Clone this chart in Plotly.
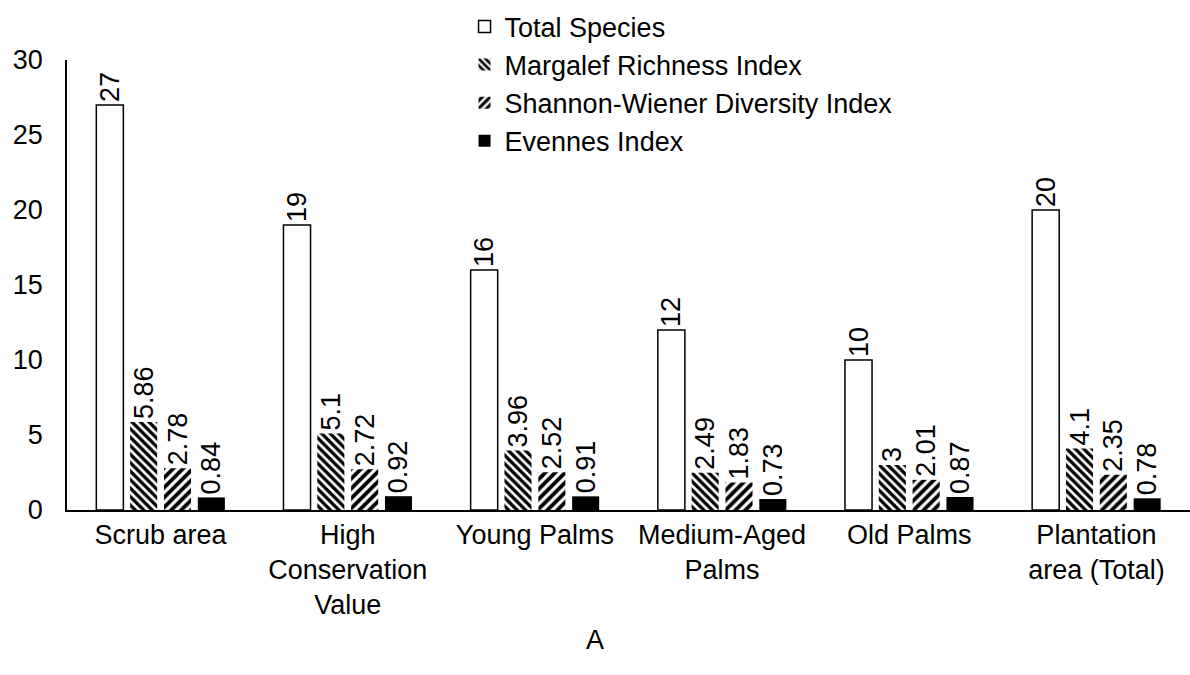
import plotly.graph_objects as go

categories = ["Scrub area", "High<br>Conservation<br>Value", "Young Palms",
              "Medium-Aged<br>Palms", "Old Palms", "Plantation<br>area (Total)"]
total_species = [27, 19, 16, 12, 10, 20]
margalef = [5.86, 5.1, 3.96, 2.49, 3, 4.1]
shannon = [2.78, 2.72, 2.52, 1.83, 2.01, 2.35]
evenness = [0.84, 0.92, 0.91, 0.73, 0.87, 0.78]
series_names = ["Total Species", "Margalef Richness Index",
                "Shannon-Wiener Diversity Index", "Evennes Index"]

FONT = "Arial, Liberation Sans, sans-serif"
FS = 27
fig = go.Figure()

def txt(vals):
    return [str(v) for v in vals]

fig.add_trace(go.Bar(x=categories, y=total_species, name=series_names[0],
                     marker=dict(color="white", line=dict(color="black", width=1.5)),
                     text=txt(total_species)))
fig.add_trace(go.Bar(x=categories, y=margalef, name=series_names[1],
                     marker=dict(color="white", line=dict(color="white", width=0),
                                 pattern=dict(shape="\\", fgcolor="black", bgcolor="white",
                                              fgopacity=1, size=6, solidity=0.55)),
                     text=txt(margalef)))
fig.add_trace(go.Bar(x=categories, y=shannon, name=series_names[2],
                     marker=dict(color="white", line=dict(color="white", width=0),
                                 pattern=dict(shape="/", fgcolor="black", bgcolor="white",
                                              fgopacity=1, size=7, solidity=0.55)),
                     text=txt(shannon)))
fig.add_trace(go.Bar(x=categories, y=evenness, name=series_names[3],
                     marker=dict(color="black", line=dict(color="black", width=0)),
                     text=txt(evenness)))

fig.update_traces(textposition="outside", textangle=-90,
                  textfont=dict(family=FONT, size=FS, color="black"),
                  cliponaxis=False)

fig.update_layout(
    width=1190, height=675,
    paper_bgcolor="white", plot_bgcolor="white",
    margin=dict(l=67, r=0, t=60, b=165),
    barmode="group", bargap=0.277, bargroupgap=0.2,
    font=dict(family=FONT, size=FS, color="black"),
    uniformtext=dict(mode="show", minsize=FS),
    legend=dict(x=0.354, y=1.128, xanchor="left", yanchor="top",
                bgcolor="rgba(0,0,0,0)", font=dict(size=FS),
                itemwidth=30, tracegroupgap=0, traceorder="normal"),
    xaxis=dict(showline=True, linecolor="black", linewidth=1.5, ticks="",
               tickfont=dict(size=FS), showgrid=False, automargin=False),
    yaxis=dict(range=[0, 30], dtick=5, showline=True, linecolor="black", linewidth=1.5,
               ticks="", showgrid=False, zeroline=False, tickfont=dict(size=FS),
               ticklabelstandoff=17, automargin=False),
    annotations=[dict(text="A", x=0.47, xref="paper", y=-0.289, yref="paper",
                      yanchor="middle", showarrow=False, font=dict(size=FS))],
)

fig.write_html("out.html", config={"displayModeBar": False},
               post_script="document.body.style.margin='0';document.body.style.padding='0';")
